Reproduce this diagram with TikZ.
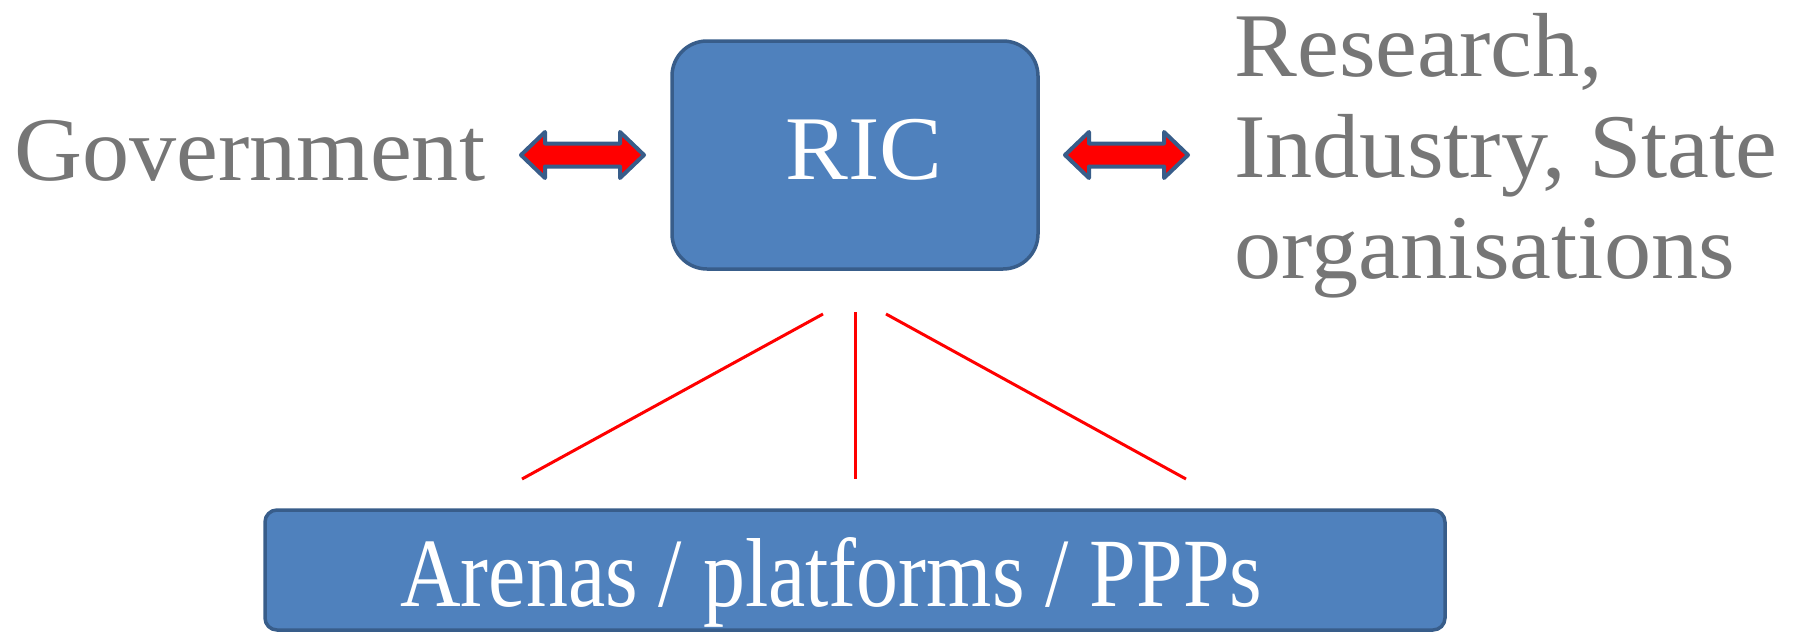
\documentclass[tikz,border=0pt]{standalone}
\usepackage{fontspec}
\setmainfont[FakeStretch=1.035]{Liberation Serif}
\newfontfamily\arenafont[FakeStretch=0.856]{Liberation Serif}
\definecolor{boxblue}{HTML}{4F81BD}
\definecolor{boxedge}{HTML}{385D8A}
\definecolor{txtgray}{HTML}{767676}
\definecolor{pureRed}{HTML}{FF0000}
\tikzset{
  bluebox/.style={draw=boxedge, fill=boxblue, line width=1.75pt, inner sep=0pt},
  graytext/.style={text=txtgray, inner sep=0pt, font=\fontsize{45.5}{50.5}\selectfont},
  whitetext/.style={text=white, inner sep=0pt},
  dblarrow/.style={draw=boxedge, fill=pureRed, line width=2pt, line join=round},
  redline/.style={draw=pureRed, line width=1.5pt}
}
\begin{document}
\begin{tikzpicture}[x=0.5pt, y=-0.5pt]
\useasboundingbox (0,0) rectangle (1816,632);

% boxes
\node[bluebox, rounded corners=17.5pt, minimum width=183pt, minimum height=114pt] (ric) at (855,155) {};
\node[whitetext, anchor=base, font=\fontsize{45.5}{50.5}\selectfont] (riclabel) at (864,179) {RIC};

\node[bluebox, rounded corners=6pt, minimum width=590pt, minimum height=60pt] (arenas) at (855,570) {};
\node[whitetext, anchor=base west, font=\arenafont\fontsize{49}{54}\selectfont] (arenaslabel) at (400,606) {Arenas / platforms / PPPs};

% side texts
\node[graytext, anchor=base west] (gov) at (14,180) {Government};
\node[graytext, anchor=north west, align=left] (ris) at (1234,13) {Research,\\Industry, State\\organisations};

% double arrows
\coordinate (la) at (582.5,155);
\coordinate (ra) at (1126.5,155);
\draw[dblarrow, shift={(la)}] (-61.5,0) -- ++(24,-23) -- ++(0,11.5) -- ++(75,0) -- ++(0,-11.5) -- ++(24,23) -- ++(-24,23) -- ++(0,-11.5) -- ++(-75,0) -- ++(0,11.5) -- cycle;
\draw[dblarrow, shift={(ra)}] (-61.5,0) -- ++(24,-23) -- ++(0,11.5) -- ++(75,0) -- ++(0,-11.5) -- ++(24,23) -- ++(-24,23) -- ++(0,-11.5) -- ++(-75,0) -- ++(0,11.5) -- cycle;

% red lines
\coordinate (l1a) at (823,314);
\coordinate (l1b) at (522,479);
\coordinate (l2a) at (855,312);
\coordinate (l2b) at (855,479);
\coordinate (l3a) at (886,314);
\coordinate (l3b) at (1186,479);
\draw[redline] (l1a) -- (l1b);
\draw[redline] (l2a) -- (l2b);
\draw[redline] (l3a) -- (l3b);
\end{tikzpicture}
\end{document}
